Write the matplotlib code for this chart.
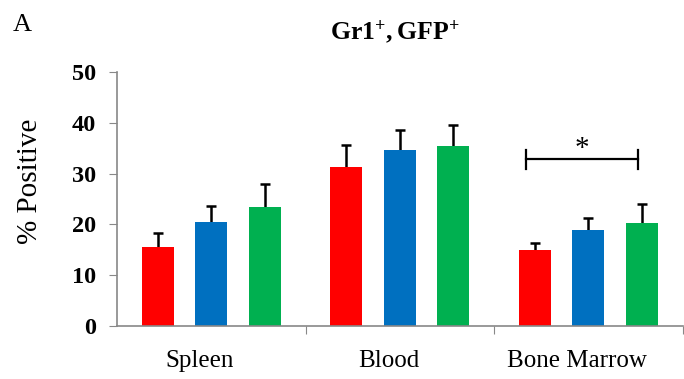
import matplotlib

matplotlib.use("Agg")
import matplotlib.pyplot as plt
import numpy as np

categories = ["Spleen", "Blood", "Bone Marrow"]
red_vals = [15.5, 31.2, 15.0]
blue_vals = [20.5, 34.6, 18.9]
green_vals = [23.4, 35.5, 20.2]
red_err = [2.8, 4.5, 1.3]
blue_err = [3.1, 4.0, 2.4]
green_err = [4.6, 4.1, 3.9]
sig_y = 32.8

plt.rcParams["font.family"] = ["Liberation Serif", "DejaVu Serif"]
plt.rcParams["mathtext.fontset"] = "custom"
plt.rcParams["mathtext.rm"] = "Liberation Serif"
plt.rcParams["mathtext.bf"] = "Liberation Serif:bold"

fig = plt.figure(figsize=(6.84, 3.79), dpi=100)
ax = fig.add_axes([0.171, 0.14, 0.827, 0.67])

x = np.arange(len(categories))
width = 0.17
step = 0.283
series = [
    (red_vals, red_err, "#ff0000"),
    (blue_vals, blue_err, "#0070c0"),
    (green_vals, green_err, "#00b050"),
]
for i, (vals, errs, col) in enumerate(series):
    pos = x + (i - 1) * step
    ax.bar(pos, vals, width, color=col, zorder=2)
    _, caps, _ = ax.errorbar(pos, vals, yerr=[np.zeros(len(errs)), errs], fmt="none",
                             ecolor="black", elinewidth=1.8, capsize=3.8,
                             capthick=1.8, zorder=1)
    caps[0].set_visible(False)  # only the upper cap

# significance bracket over Bone Marrow
x0, x1 = 2 - 0.33, 2 + 0.265
ax.plot([x0, x1], [sig_y, sig_y], color="black", lw=1.6)
ax.plot([x0, x0], [sig_y - 1.8, sig_y + 1.8], color="black", lw=1.6)
ax.plot([x1, x1], [sig_y - 1.8, sig_y + 1.8], color="black", lw=1.6)
ax.text((x0 + x1) / 2, sig_y - 0.6, "*", ha="center", va="bottom", fontsize=21)

ax.set_xlim(-0.5, 2.5)
ax.set_ylim(0, 50)
ax.set_yticks([0, 10, 20, 30, 40, 50])
ax.set_yticklabels(["0", "10", "20", "30", "40", "50"], fontweight="bold", fontsize=17.5)
ax.set_xticks([0.5, 1.5, 2.5])
ax.set_xticklabels([])
ax.set_xticks(x - 0.06, minor=True)
ax.set_xticklabels(categories, minor=True, fontsize=18)
ax.tick_params(axis="x", which="minor", length=0, pad=17)
ax.tick_params(axis="x", which="major", length=6, color="#888888")
ax.tick_params(axis="y", length=6, color="#888888", pad=9)
for s in ["top", "right"]:
    ax.spines[s].set_visible(False)
for s in ["left", "bottom"]:
    ax.spines[s].set_color("#888888")
    ax.spines[s].set_linewidth(1.2)

ax.set_ylabel("% Positive", fontsize=21)
ax.yaxis.set_label_coords(-0.13, 0.57)
fig.text(0.578, 0.915, r"$\mathbf{Gr1^{+}, GFP^{+}}$", ha="center", va="center",
         fontsize=18.5)
fig.text(0.032, 0.935, "A", ha="center", va="center", fontsize=19)

fig.savefig("out.png", dpi=100)
